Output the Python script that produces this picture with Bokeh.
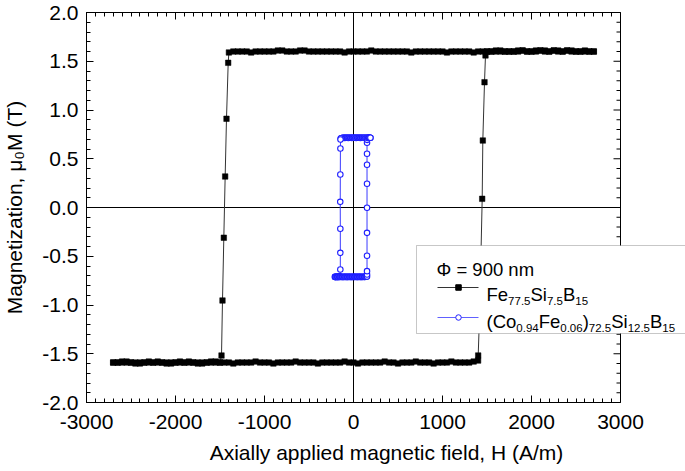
import numpy as np
from bokeh.plotting import figure
from bokeh.models import (Range1d, SingleIntervalTicker, LinearAxis, Span,
                          BoxAnnotation, Label, PrintfTickFormatter)
from bokeh.embed import file_html
from bokeh.resources import INLINE

# ---------------- data ----------------
# Fe77.5Si7.5B15, descending branch (from +H to -H)
fe_desc_top_H = [2700, 2650, 2600, 2550, 2500, 2450, 2400, 2350, 2300, 2250,
                 2200, 2150, 2100, 2050, 2000, 1950, 1900, 1850, 1800, 1750,
                 1700, 1650, 1600, 1550, 1500, 1450, 1400, 1350, 1300, 1250,
                 1200, 1150, 1100, 1050, 1000, 950, 900, 850, 800, 750,
                 700, 650, 600, 550, 500, 450, 400, 350, 300, 250,
                 200, 150, 100, 50, 0, -50, -100, -150, -200, -250,
                 -300, -350, -400, -450, -500, -550, -600, -650, -700, -750,
                 -800, -850, -900, -950, -1000, -1050, -1100, -1150, -1200, -1250,
                 -1300, -1350, -1400]
fe_desc_top_M = [1.60, 1.60, 1.61, 1.60, 1.60, 1.61, 1.61, 1.60, 1.60, 1.61,
                 1.60, 1.60, 1.61, 1.60, 1.60, 1.60, 1.61, 1.61, 1.60, 1.60,
                 1.60, 1.60, 1.61, 1.60, 1.60, 1.60, 1.60, 1.59, 1.60, 1.60,
                 1.60, 1.60, 1.60, 1.59, 1.60, 1.60, 1.60, 1.60, 1.60, 1.60,
                 1.60, 1.59, 1.60, 1.60, 1.60, 1.60, 1.60, 1.60, 1.60, 1.60,
                 1.61, 1.60, 1.60, 1.60, 1.60, 1.60, 1.59, 1.60, 1.60, 1.60,
                 1.60, 1.60, 1.60, 1.60, 1.60, 1.61, 1.61, 1.60, 1.60, 1.60,
                 1.61, 1.61, 1.60, 1.60, 1.60, 1.60, 1.60, 1.59, 1.60, 1.60,
                 1.60, 1.60, 1.59]
fe_desc_sw_H = [-1408, -1427, -1442, -1457, -1472, -1483]
fe_desc_sw_M = [1.484, 0.91, 0.318, -0.31, -0.954, -1.518]
fe_desc_bot_H = [-1500, -1550, -1600, -1650, -1700, -1750, -1800, -1850, -1900, -1950,
                 -2000, -2050, -2100, -2150, -2200, -2250, -2300, -2350, -2400, -2450,
                 -2500, -2550, -2600, -2650, -2700]
fe_desc_bot_M = [-1.59, -1.58, -1.59, -1.59, -1.60, -1.59, -1.59, -1.58, -1.59, -1.59,
                 -1.59, -1.60, -1.59, -1.59, -1.58, -1.59, -1.59, -1.59, -1.60, -1.59,
                 -1.59, -1.58, -1.59, -1.59, -1.59]

# Fe77.5Si7.5B15, ascending branch (from -H to +H)
fe_asc_bot_H = [-2700, -2650, -2600, -2550, -2500, -2450, -2400, -2350, -2300, -2250,
                -2200, -2150, -2100, -2050, -2000, -1950, -1900, -1850, -1800, -1750,
                -1700, -1650, -1600, -1550, -1500, -1450, -1400, -1350, -1300, -1250,
                -1200, -1150, -1100, -1050, -1000, -950, -900, -850, -800, -750,
                -700, -650, -600, -550, -500, -450, -400, -350, -300, -250,
                -200, -150, -100, -50, 0, 50, 100, 150, 200, 250,
                300, 350, 400, 450, 500, 550, 600, 650, 700, 750,
                800, 850, 900, 950, 1000, 1050, 1100, 1150, 1200, 1250,
                1300, 1350, 1400]
fe_asc_bot_M = [-1.59, -1.59, -1.58, -1.59, -1.59, -1.60, -1.59, -1.59, -1.58, -1.59,
                -1.59, -1.59, -1.60, -1.59, -1.59, -1.58, -1.59, -1.59, -1.59, -1.60,
                -1.59, -1.59, -1.58, -1.59, -1.59, -1.59, -1.59, -1.60, -1.59, -1.59,
                -1.59, -1.59, -1.58, -1.59, -1.59, -1.59, -1.60, -1.59, -1.59, -1.59,
                -1.59, -1.58, -1.59, -1.59, -1.59, -1.59, -1.60, -1.59, -1.59, -1.59,
                -1.59, -1.59, -1.58, -1.59, -1.59, -1.60, -1.59, -1.59, -1.59, -1.59,
                -1.59, -1.58, -1.59, -1.59, -1.60, -1.59, -1.59, -1.59, -1.58, -1.59,
                -1.59, -1.59, -1.60, -1.59, -1.59, -1.59, -1.58, -1.59, -1.59, -1.59,
                -1.59, -1.58, -1.57]
fe_asc_sw_H = [1401, 1418, 1432, 1446, 1453, 1472, 1483]
fe_asc_sw_M = [-1.518, -1.06, -0.49, 0.089, 0.687, 1.285, 1.56]
fe_asc_top_H = [1500, 1550, 1600, 1650, 1700, 1750, 1800, 1850, 1900, 1950,
                2000, 2050, 2100, 2150, 2200, 2250, 2300, 2350, 2400, 2450,
                2500, 2550, 2600, 2650, 2700]
fe_asc_top_M = [1.60, 1.60, 1.60, 1.61, 1.60, 1.60, 1.60, 1.60, 1.61, 1.60,
                1.60, 1.61, 1.61, 1.61, 1.60, 1.61, 1.61, 1.60, 1.61, 1.60,
                1.60, 1.60, 1.60, 1.60, 1.60]

# (Co0.94Fe0.06)72.5Si12.5B15, descending branch
co_desc_top_H = [190, 182, 174, 166, 158, 150, 142, 134, 126, 118,
                 110, 102, 94, 86, 78, 70, 62, 54, 46, 38,
                 30, 22, 14, 6, -2, -10, -18, -26, -34, -42,
                 -50, -58, -66, -74, -82, -90, -98, -106, -114, -122,
                 -130, -138, -144]
co_desc_top_M = [0.715, 0.716, 0.715, 0.714, 0.715, 0.716, 0.715, 0.715, 0.714, 0.715,
                 0.715, 0.716, 0.715, 0.715, 0.714, 0.715, 0.715, 0.716, 0.715, 0.715,
                 0.714, 0.715, 0.715, 0.716, 0.715, 0.715, 0.714, 0.715, 0.716, 0.715,
                 0.715, 0.714, 0.715, 0.716, 0.715, 0.715, 0.714, 0.715, 0.715, 0.714,
                 0.713, 0.711, 0.708]
co_desc_sw_H = [-146, -147, -148, -149, -148, -148, -148]
co_desc_sw_M = [0.697, 0.605, 0.338, 0.058, -0.218, -0.465, -0.636]
co_desc_bot_H = [-152, -160, -168, -176, -184, -192, -200, -208]
co_desc_bot_M = [-0.705, -0.710, -0.711, -0.712, -0.712, -0.713, -0.712, -0.712]

# (Co0.94Fe0.06)72.5Si12.5B15, ascending branch
co_asc_bot_H = [-208, -200, -192, -184, -176, -168, -160, -152, -144, -136,
                -128, -120, -112, -104, -96, -88, -80, -72, -64, -56,
                -48, -40, -32, -24, -16, -8, 0, 8, 16, 24,
                32, 40, 48, 56, 64, 72, 80, 88, 96, 104,
                112, 120, 128, 136, 144]
co_asc_bot_M = [-0.712, -0.713, -0.712, -0.711, -0.712, -0.712, -0.713, -0.712, -0.711, -0.712,
                -0.712, -0.713, -0.712, -0.712, -0.711, -0.712, -0.712, -0.713, -0.712, -0.712,
                -0.711, -0.712, -0.712, -0.713, -0.712, -0.712, -0.711, -0.712, -0.712, -0.711,
                -0.712, -0.713, -0.712, -0.712, -0.711, -0.712, -0.712, -0.713, -0.712, -0.712,
                -0.711, -0.712, -0.712, -0.711, -0.710]
co_asc_sw_H = [152, 152, 152, 152, 152, 152, 152, 152, 152, 152, 153]
co_asc_sw_M = [-0.708, -0.687, -0.653, -0.495, -0.26, -0.003, 0.243, 0.438, 0.551, 0.664, 0.694]
co_asc_top_H = [158, 166, 174, 182, 190]
co_asc_top_M = [0.713, 0.714, 0.715, 0.716, 0.715]

x_tick_interval = 1000
y_tick_interval = 0.5
x_axis_title = "Axially applied magnetic field, H (A/m)"
y_axis_title = "Magnetization, μ\u2080M (T)"

# ---------------- helpers ----------------
def pair(h, m):
    n = min(len(h), len(m))
    return list(h[:n]), list(m[:n])

def join(*parts):
    hs, ms = [], []
    for h, m in parts:
        a, b = pair(h, m)
        hs += a
        ms += b
    return hs, ms

fe_H, fe_M = join((fe_desc_top_H, fe_desc_top_M), (fe_desc_sw_H, fe_desc_sw_M), (fe_desc_bot_H, fe_desc_bot_M))
fe2_H, fe2_M = join((fe_asc_bot_H, fe_asc_bot_M), (fe_asc_sw_H, fe_asc_sw_M), (fe_asc_top_H, fe_asc_top_M))
co_H, co_M = join((co_desc_top_H, co_desc_top_M), (co_desc_sw_H, co_desc_sw_M), (co_desc_bot_H, co_desc_bot_M))
co2_H, co2_M = join((co_asc_bot_H, co_asc_bot_M), (co_asc_sw_H, co_asc_sw_M), (co_asc_top_H, co_asc_top_M))

# axes box in page pixels; the plotting frame is extended to the right so
# that the legend may overhang the axes box, as in the original figure
BL, BR, BT, BB = 80, 614, 12, 402      # axes box
FR = 680                                 # right edge of the drawing frame
CW_, CH_ = 685, 471
XMIN, XMAX, YMIN, YMAX = -3000, 3000, -2.0, 2.0
PX_PER_X = (BR - BL) / (XMAX - XMIN)
PX_PER_Y = (BB - BT) / (YMAX - YMIN)

def dx(px):
    return XMIN + (px - BL) / PX_PER_X

def dy(py):
    return YMAX - (py - BT) / PX_PER_Y

CW = {'.': .278, ',': .278, ' ': .278, '(': .333, ')': .333, '/': .278, '=': .584,
      'A': .667, 'B': .667, 'C': .722, 'F': .611, 'H': .722, 'M': .833, 'S': .667,
      'T': .611, 'a': .556, 'c': .5, 'd': .556, 'e': .556, 'f': .278, 'g': .556,
      'i': .222, 'l': .222, 'm': .833, 'n': .556, 'o': .556, 'p': .556, 't': .278,
      'x': .5, 'y': .5, 'z': .5, 'μ': .576, 'Φ': .76}

def tw(s, size):
    return sum(CW.get(c, .556) for c in s) * size

FONT = "Liberation Sans"

p = figure(frame_width=FR - BL, frame_height=BB - BT, output_backend="svg",
           toolbar_location=None, x_range=Range1d(XMIN, dx(FR)), y_range=Range1d(YMIN, YMAX),
           min_border_left=BL, min_border_right=CW_ - FR, min_border_top=BT,
           min_border_bottom=CH_ - BB, x_axis_location=None, y_axis_location=None)
p.xgrid.visible = False
p.ygrid.visible = False
p.outline_line_color = None
p.background_fill_color = "white"
p.border_fill_color = "white"


def style_axis(ax):
    ax.axis_line_color = "black"
    ax.axis_line_width = 1
    ax.major_tick_line_color = "black"
    ax.minor_tick_line_color = "black"
    ax.major_tick_in = 7
    ax.major_tick_out = 0
    ax.minor_tick_in = 4
    ax.minor_tick_out = 0
    ax.major_label_text_font = FONT
    ax.major_label_text_font_size = "21px"
    ax.major_label_text_color = "black"
    ax.axis_label_text_font = FONT
    ax.axis_label_text_font_size = "21px"
    ax.axis_label_text_font_style = "normal"
    ax.axis_label_text_color = "black"


xb = LinearAxis(ticker=SingleIntervalTicker(interval=x_tick_interval, num_minor_ticks=10),
                formatter=PrintfTickFormatter(format="%d"), bounds=(XMIN, XMAX),
                axis_label=x_axis_title)
style_axis(xb)
xb.major_label_standoff = 12
xb.axis_label_standoff = 9
p.add_layout(xb, "below")

xt = LinearAxis(ticker=SingleIntervalTicker(interval=x_tick_interval, num_minor_ticks=10),
                bounds=(XMIN, XMAX))
style_axis(xt)
xt.major_label_text_font_size = "0px"
xt.major_label_text_color = None
xt.major_label_standoff = 0
p.add_layout(xt, "above")

yl = LinearAxis(ticker=SingleIntervalTicker(interval=y_tick_interval, num_minor_ticks=5),
                formatter=PrintfTickFormatter(format="%.1f"), axis_label=y_axis_title)
style_axis(yl)
yl.major_label_standoff = 8
yl.axis_label_standoff = 13
p.add_layout(yl, "left")

# right edge of the axes box with mirrored inward ticks
p.add_layout(Span(location=XMAX, dimension="height", line_color="black", line_width=1))
minor_step = y_tick_interval / 5
n_ticks = int(round((YMAX - YMIN) / minor_step)) + 1
tick_y = [YMIN + i * minor_step for i in range(n_ticks)]
tick_len = [7 if i % 5 == 0 else 4 for i in range(n_ticks)]
p.segment(x0=[XMAX] * n_ticks, y0=tick_y,
          x1=[XMAX - L / PX_PER_X for L in tick_len], y1=tick_y,
          line_color="black", line_width=1)

# zero lines
p.segment(x0=[XMIN], y0=[0], x1=[XMAX], y1=[0], line_color="black", line_width=1, level="underlay")
p.add_layout(Span(location=0, dimension="height", line_color="black", line_width=1, level="underlay"))

# Fe-based loop
for h, m in [(fe_H, fe_M), (fe2_H, fe2_M)]:
    p.line(h, m, line_color="#333333", line_width=1)
for h, m in [(fe_H, fe_M), (fe2_H, fe2_M)]:
    p.scatter(h, m, marker="square", size=5.5, fill_color="black", line_color="black", line_width=0.5)

# Co-based loop
BLUE = "#1f1fff"
for h, m in [(co_H, co_M), (co2_H, co2_M)]:
    p.line(h, m, line_color="#3a3aff", line_width=1)
for h, m in [(co_H, co_M), (co2_H, co2_M)]:
    p.scatter(h, m, marker="circle", size=5.5, fill_color="white", line_color=BLUE, line_width=1.1)

# ---------------- legend (drawn by hand to allow subscripts) ----------------
p.add_layout(BoxAnnotation(left=dx(410), right=dx(679), top=dy(245), bottom=dy(333),
                           fill_color="white", fill_alpha=1.0, line_color="#444444",
                           line_width=1, level="annotation"))
r = p.line([dx(431), dx(472)], [dy(287), dy(287)], line_color="#333333", line_width=1)
r.level = "overlay"
r = p.scatter([dx(452)], [dy(287)], marker="square", size=5.5, fill_color="black", line_color="black")
r.level = "overlay"
r = p.line([dx(431), dx(472)], [dy(317), dy(317)], line_color="#6060ff", line_width=1)
r.level = "overlay"
r = p.scatter([dx(452)], [dy(317)], marker="circle", size=5.5, fill_color="white",
              line_color=BLUE, line_width=1)
r.level = "overlay"


def run_h(pieces, x0, base):
    x = x0
    for text, size, style, shift in pieces:
        p.add_layout(Label(x=dx(x), y=dy(base + shift), text=text, text_font=FONT,
                           text_font_size=f"{size}px", text_font_style=style,
                           text_color="black", text_align="left",
                           text_baseline="alphabetic", level="overlay"))
        x += tw(text, size)


LB, LS, SUB = 18.5, 11.5, 6.5
run_h([("Φ = 900 nm", LB, "normal", 0)], 430, 269)
run_h([("Fe", LB, "normal", 0), ("77.5", LS, "normal", SUB), ("Si", LB, "normal", 0),
       ("7.5", LS, "normal", SUB), ("B", LB, "normal", 0), ("15", LS, "normal", SUB)], 480, 293.5)
run_h([("(Co", LB, "normal", 0), ("0.94", LS, "normal", SUB), ("Fe", LB, "normal", 0),
       ("0.06", LS, "normal", SUB), (")", LB, "normal", 0), ("72.5", LS, "normal", SUB),
       ("Si", LB, "normal", 0), ("12.5", LS, "normal", SUB), ("B", LB, "normal", 0),
       ("15", LS, "normal", SUB)], 480, 321)

open("out.html", "w").write(file_html(p, INLINE))
